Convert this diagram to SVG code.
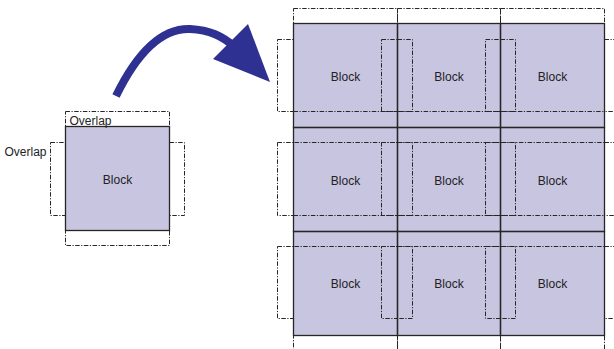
<svg xmlns="http://www.w3.org/2000/svg" width="614" height="349" viewBox="0 0 614 349">
<style>
.fill{fill:#c8c5e1;stroke:none}
.edge{fill:none;stroke:#262626;stroke-width:1.3}
.ov{fill:none;stroke:#262626;stroke-width:1;stroke-dasharray:4.5 1.5 1.2 1.5}
.t{font-family:"Liberation Sans",Arial,sans-serif;font-size:12px;fill:#222}
.c{text-anchor:middle}
</style>
<rect width="614" height="349" fill="#fff"/>
<g transform="translate(0.5 0.5)">
<g id="single-block">
<rect class="fill" x="65" y="126" width="104" height="104"/>
<rect class="ov" x="65" y="111" width="104" height="15"/>
<rect class="ov" x="65" y="230" width="104" height="15"/>
<rect class="ov" x="50" y="142" width="15" height="73"/>
<rect class="ov" x="169" y="142" width="15" height="73"/>
<rect class="edge" x="65" y="126" width="104" height="104"/>
<text class="t c" x="117" y="183">Block</text>
<text class="t" x="69" y="124">Overlap</text>
<text class="t" x="4" y="155">Overlap</text>
</g>
<g id="grid-fill">
<rect class="fill" x="293" y="23" width="311" height="312"/>
</g>
<g id="block-r1c1"><rect class="ov" x="293" y="8" width="104" height="15"/><rect class="ov" x="293" y="127" width="104" height="15"/><rect class="ov" x="277" y="39" width="16" height="72"/><rect class="ov" x="397" y="39" width="15" height="72"/><rect class="edge" x="293" y="23" width="104" height="104"/><text class="t c" x="345" y="80">Block</text></g>
<g id="block-r1c2"><rect class="ov" x="397" y="8" width="103" height="15"/><rect class="ov" x="397" y="127" width="103" height="15"/><rect class="ov" x="381" y="39" width="16" height="72"/><rect class="ov" x="500" y="39" width="15" height="72"/><rect class="edge" x="397" y="23" width="103" height="104"/><text class="t c" x="448.5" y="80">Block</text></g>
<g id="block-r1c3"><rect class="ov" x="500" y="8" width="104" height="15"/><rect class="ov" x="500" y="127" width="104" height="15"/><rect class="ov" x="485" y="39" width="15" height="72"/><rect class="ov" x="604" y="39" width="16" height="72"/><rect class="edge" x="500" y="23" width="104" height="104"/><text class="t c" x="552" y="80">Block</text></g>
<g id="block-r2c1"><rect class="ov" x="293" y="111" width="104" height="16"/><rect class="ov" x="293" y="231" width="104" height="15"/><rect class="ov" x="277" y="142" width="16" height="73"/><rect class="ov" x="397" y="142" width="15" height="73"/><rect class="edge" x="293" y="127" width="104" height="104"/><text class="t c" x="345" y="184">Block</text></g>
<g id="block-r2c2"><rect class="ov" x="397" y="111" width="103" height="16"/><rect class="ov" x="397" y="231" width="103" height="15"/><rect class="ov" x="381" y="142" width="16" height="73"/><rect class="ov" x="500" y="142" width="15" height="73"/><rect class="edge" x="397" y="127" width="103" height="104"/><text class="t c" x="448.5" y="184">Block</text></g>
<g id="block-r2c3"><rect class="ov" x="500" y="111" width="104" height="16"/><rect class="ov" x="500" y="231" width="104" height="15"/><rect class="ov" x="485" y="142" width="15" height="73"/><rect class="ov" x="604" y="142" width="16" height="73"/><rect class="edge" x="500" y="127" width="104" height="104"/><text class="t c" x="552" y="184">Block</text></g>
<g id="block-r3c1"><rect class="ov" x="293" y="215" width="104" height="16"/><rect class="ov" x="293" y="335" width="104" height="15"/><rect class="ov" x="277" y="246" width="16" height="72"/><rect class="ov" x="397" y="246" width="15" height="72"/><rect class="edge" x="293" y="231" width="104" height="104"/><text class="t c" x="345" y="287">Block</text></g>
<g id="block-r3c2"><rect class="ov" x="397" y="215" width="103" height="16"/><rect class="ov" x="397" y="335" width="103" height="15"/><rect class="ov" x="381" y="246" width="16" height="72"/><rect class="ov" x="500" y="246" width="15" height="72"/><rect class="edge" x="397" y="231" width="103" height="104"/><text class="t c" x="448.5" y="287">Block</text></g>
<g id="block-r3c3"><rect class="ov" x="500" y="215" width="104" height="16"/><rect class="ov" x="500" y="335" width="104" height="15"/><rect class="ov" x="485" y="246" width="15" height="72"/><rect class="ov" x="604" y="246" width="16" height="72"/><rect class="edge" x="500" y="231" width="104" height="104"/><text class="t c" x="552" y="287">Block</text></g>
</g>
<g id="connectors">
<path d="M116,96 C136,55 160,28 190,29 C210,30 222,36 235,47" fill="none" stroke="#2e3192" stroke-width="8"/>
<polygon points="248,24 270,82 213,59" fill="#2e3192"/>
</g>
</svg>
